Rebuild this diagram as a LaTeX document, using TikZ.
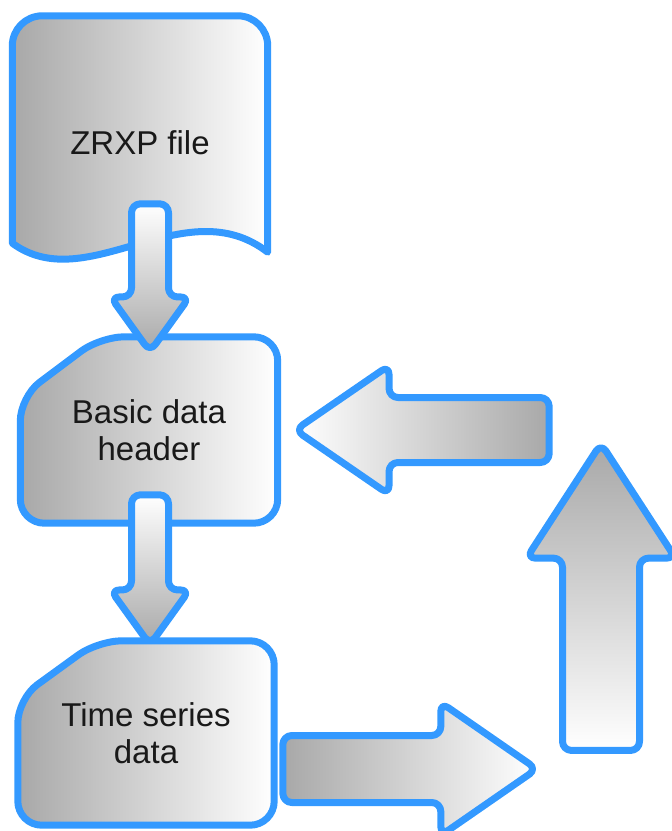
\documentclass[tikz,border=0pt]{standalone}
\usepackage{fontspec}
\setmainfont{Liberation Sans}
\usetikzlibrary{shapes.arrows, positioning, calc, backgrounds}
\definecolor{frameblue}{RGB}{51,153,255}
\definecolor{shadegray}{RGB}{168,168,168}
\definecolor{textgray}{RGB}{25,25,25}
\tikzstyle{boxtext} = [rectangle, align=center, text=textgray, font=\fontsize{33}{37}\selectfont, inner sep=0pt]
\tikzstyle{frame} = [draw=frameblue, line width=7pt, line join=round, left color=shadegray, right color=white]
\tikzstyle{blockarrow} = [single arrow, draw=frameblue, line width=7pt, line join=round, rounded corners=9pt, anchor=tip]

\begin{document}
\begin{tikzpicture}[x=1pt, y=-1pt, node distance=287pt]
\useasboundingbox (0,0) rectangle (672,831);

\node (zrxp) [boxtext, minimum width=255pt, minimum height=254pt] at (140,143) {ZRXP file};
  \node (header) [boxtext, below of=zrxp, xshift=9pt, minimum width=257pt, minimum height=186pt] {Basic data\\header};
  \node (series) [boxtext, below of=header, xshift=-3pt, yshift=-16pt, minimum width=256pt, minimum height=184pt] {Time series\\data};

  \begin{scope}[on background layer]
  \draw [frame] ($(zrxp.south west)+(0,-27)$) [rounded corners=30pt] -- (zrxp.north west) -- (zrxp.north east) [sharp corners] -- ($(zrxp.south east)+(0,-18)$) .. controls ($(zrxp.south east)+(-83,-82)$) and ($(zrxp.south west)+(75,28)$) .. ($(zrxp.south west)+(0,-27)$) -- cycle;
  \draw [frame, rounded corners=24pt] ($(header.north west)+(80,0)$) -- (header.north east) -- (header.south east) -- (header.south west) -- ($(header.north west)+(0,60)$) -- cycle;
  \draw [frame, rounded corners=24pt] ($(series.north west)+(80,0)$) -- (series.north east) -- (series.south east) -- (series.south west) -- ($(series.north west)+(0,58)$) -- cycle;
  \end{scope}

  % arrows down the left column
  \node (down1) [blockarrow, shape border rotate=270, top color=white, bottom color=shadegray, inner sep=15pt, single arrow head extend=21pt, single arrow tip angle=71.5, minimum height=148pt] at ($(header.north)+(1,21)$) {};
  \node (down2) [blockarrow, shape border rotate=270, top color=white, bottom color=shadegray, inner sep=15pt, single arrow head extend=21pt, single arrow tip angle=71.5, minimum height=150pt] at ($(series.north)+(4,10)$) {};

  % the loop on the right
  \node (forward) [blockarrow, left color=shadegray, right color=white, inner sep=30pt, single arrow head extend=33pt, single arrow tip angle=69.4, minimum height=254pt] at (543,769) {};
  \node (upward) [blockarrow, shape border rotate=90, top color=shadegray, bottom color=white, inner sep=35pt, single arrow head extend=36pt, single arrow tip angle=66, minimum height=307pt] at (601,437) {};
  \node (back) [blockarrow, shape border rotate=180, left color=white, right color=shadegray, inner sep=29pt, single arrow head extend=32pt, single arrow tip angle=69, minimum height=254pt] at (289,430) {};

\end{tikzpicture}
\end{document}
